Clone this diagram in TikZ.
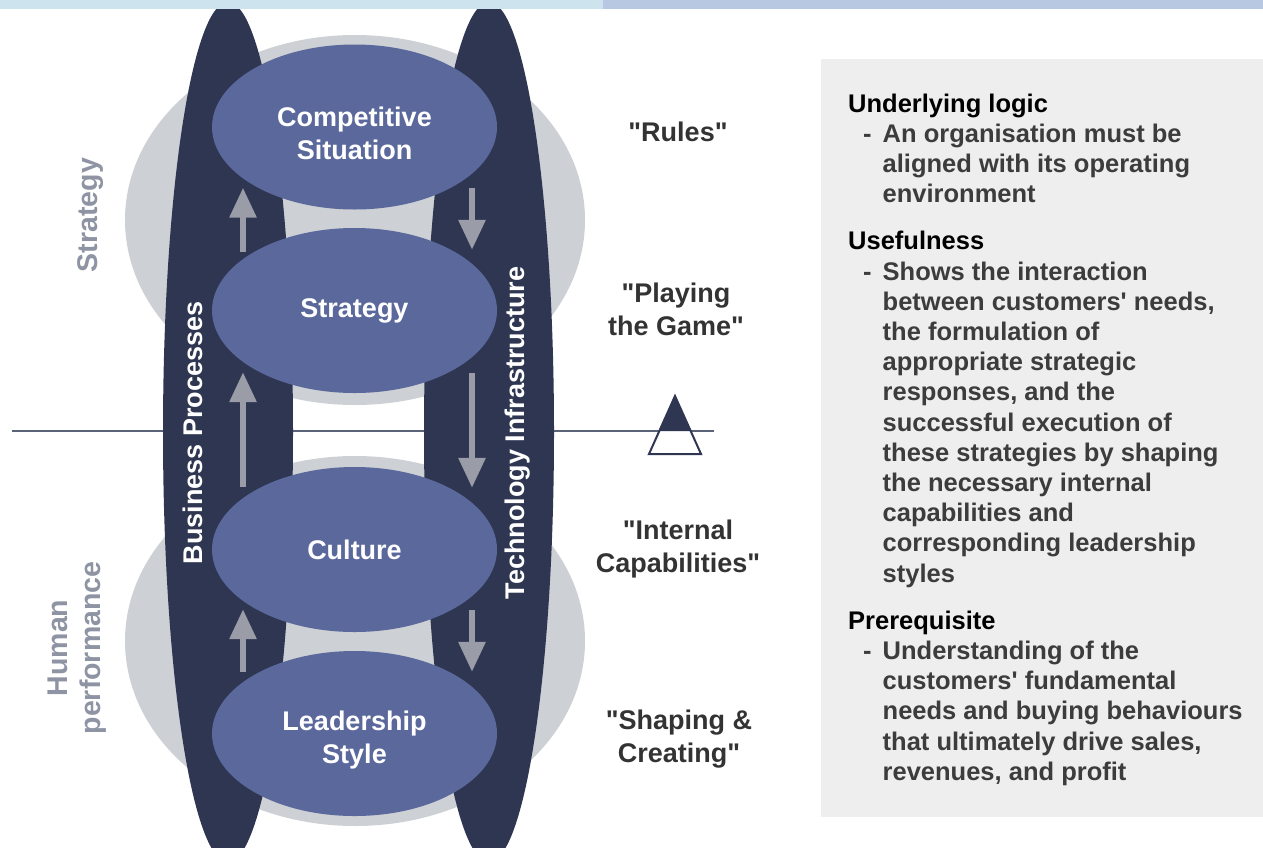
\documentclass[tikz,border=0pt]{standalone}
\usepackage{fontspec}
\usepackage{xcolor}
\usepackage{tikz}
\usetikzlibrary{arrows.meta,calc,shapes.geometric}
\newfontfamily\arialfont{Liberation Sans}
\newcommand{\diagfont}{\arialfont\bfseries\fontsize{27}{33}\selectfont}
\newcommand{\sidefont}{\arialfont\bfseries\fontsize{28.5}{33}\selectfont}
\newcommand{\notefont}{\arialfont\bfseries\fontsize{25.5}{30.2}\selectfont}
\newcommand{\lowerline}{\rule{0pt}{32pt}}
\definecolor{stripleft}{HTML}{CDE3EE}
\definecolor{stripright}{HTML}{B8C8E2}
\definecolor{zonegrey}{HTML}{CDD0D4}
\definecolor{pillarblue}{HTML}{2E3652}
\definecolor{stageblue}{HTML}{5A689C}
\definecolor{flowgrey}{HTML}{9A9DA8}
\definecolor{horizonblue}{HTML}{5B6378}
\definecolor{labelgrey}{HTML}{8E94A3}
\definecolor{quotedark}{HTML}{333333}
\definecolor{notegrey}{HTML}{EEEEEE}
\definecolor{notebody}{HTML}{3C3C3C}
\tikzset{zone/.style={ellipse,fill=zonegrey,minimum width=460pt,minimum height=370pt},
    pillar/.style={ellipse,fill=pillarblue,minimum width=130pt,minimum height=860pt},
    stage/.style={ellipse,fill=stageblue,minimum width=285pt,minimum height=165pt,
        inner sep=0pt,text=white,font=\diagfont,align=center},
    flow/.style={draw=flowgrey,line width=6pt,-{Triangle[width=26pt,length=30pt]}},
    pillarlabel/.style={rotate=90,text=white,font=\diagfont},
    zonelabel/.style={rotate=90,text=labelgrey,font=\sidefont,align=center},
    quote/.style={text=quotedark,font=\diagfont,align=center},
    notebox/.style={fill=notegrey,minimum width=442pt,minimum height=758pt},
    notetext/.style={text=notebody,font=\notefont,inner sep=0pt}}

\begin{document}
\begin{tikzpicture}[x=1pt,y=-1pt]
            \useasboundingbox (0,0) rectangle (1263,847);
            % grey zones and divider
            \node[zone] (stratzone) at (355,220) {};
            \node[zone] (humanzone) at (355,641) {};
            \coordinate (horizonL) at (12,431);
            \coordinate (horizonR) at (714,431);
            \draw[horizonblue,line width=2pt] (horizonL) -- (horizonR);
            % pillars
            \node[pillar] (bizproc) at (228,432) {};
            \node[pillar] (techinf) at (489,432) {};
            \node[pillarlabel] (bizlabel) at (193,433) {Business Processes};
            \node[pillarlabel] (techlabel) at (518,433) {Technology Infrastructure};
            % header strip
            \fill[stripleft] (0,0) rectangle (603,9);
            \fill[stripright] (603,0) rectangle (1263,9);
            % stages
            \node[stage] (compsit) at (354.5,127) {\lowerline Competitive\\Situation};
            \node[stage] (strat) at (354.5,310.5) {Strategy};
            \node[stage] (cult) at (354.5,549.5) {Culture};
            \node[stage] (lead) at (354.5,733.5) {\lowerline Leadership\\Style};
            % flows
            \draw[flow] ($(strat.north)+(-111.5,24)$) -- ($(compsit.south)+(-111.5,-22)$);
            \draw[flow] ($(cult.north)+(-111.5,20)$) -- ($(strat.south)+(-111.5,-21)$);
            \draw[flow] ($(lead.north)+(-111.5,21)$) -- ($(cult.south)+(-111.5,-23)$);
            \draw[flow] ($(compsit.south)+(117.5,-22)$) -- ($(strat.north)+(117.5,22)$);
            \draw[flow] ($(strat.south)+(117.5,-20)$) -- ($(cult.north)+(117.5,21)$);
            \draw[flow] ($(cult.south)+(117.5,-22)$) -- ($(lead.north)+(117.5,21)$);
            % side labels
            \node[zonelabel] (stratlabel) at (91,215) {Strategy};
            \node[zonelabel] (humanlabel) at (77,648) {Human\\performance};
            % quotes
            \node[quote] (rules) at (678,132) {"Rules"};
            \node[quote] (playing) at (676,309) {"Playing\\the Game"};
            \node[quote] (internal) at (678,549) {"Internal\\Capabilities"};
            \node[quote] (shaping) at (679,739) {"Shaping \&\\Creating"};
            % marker
            \coordinate (apex) at (675,396);
            \filldraw[fill=white,draw=pillarblue,line width=2pt] (apex) -- (649,454) -- (701,454) -- cycle;
            \fill[pillarblue] (apex) -- (659.5,431) -- (690.5,431) -- cycle;
            % notes
            \node[notebox] (notes) at (1042,438) {};
            \node[notetext,anchor=base west] (notetext) at (848,112) {%
                \begin{tabular}[t]{@{\hspace{15pt}}l@{\hspace{11pt}}l@{}}
                \multicolumn{2}{@{}l@{}}{\color{black}Underlying logic}\\
                - & An organisation must be\\
                  & aligned with its operating\\
                  & environment\\[17pt]
                \multicolumn{2}{@{}l@{}}{\color{black}Usefulness}\\
                - & Shows the interaction\\
                  & between customers' needs,\\
                  & the formulation of\\
                  & appropriate strategic\\
                  & responses, and the\\
                  & successful execution of\\
                  & these strategies by shaping\\
                  & the necessary internal\\
                  & capabilities and\\
                  & corresponding leadership\\
                  & styles\\[17pt]
                \multicolumn{2}{@{}l@{}}{\color{black}Prerequisite}\\
                - & Understanding of the\\
                  & customers' fundamental\\
                  & needs and buying behaviours\\
                  & that ultimately drive sales,\\
                  & revenues, and profit
                \end{tabular}};
        \end{tikzpicture}
\end{document}
